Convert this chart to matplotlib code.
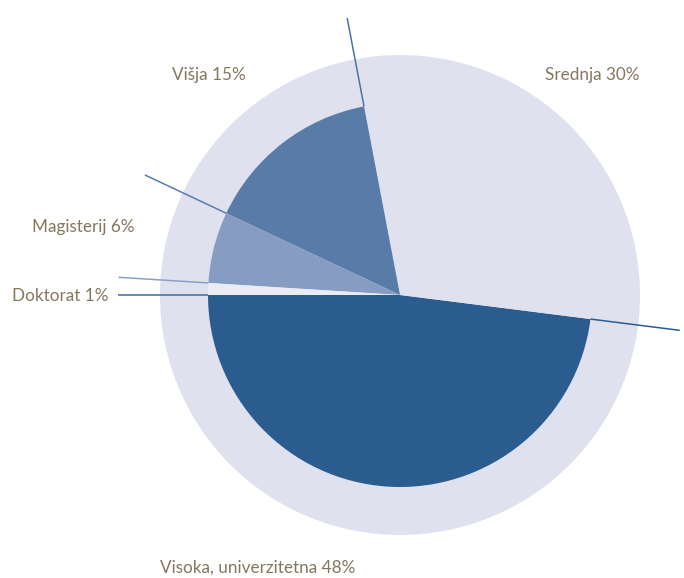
import numpy as np
import matplotlib
matplotlib.use("Agg")
import matplotlib.pyplot as plt
from matplotlib.patches import Circle

categories = ["Visoka, univerzitetna", "Srednja", "Višja", "Magisterij", "Doktorat"]
values = [48, 30, 15, 6, 1]
labels = ["Visoka, univerzitetna 48%", "Srednja 30%", "Višja 15%", "Magisterij 6%", "Doktorat 1%"]

colors = ["#2b5c8f", "#dfe2ee", "#587ba8", "#869cc3", "#e9ecf5"]
line_colors = ["#2b5c8f", "#4a72a8", "#5a7cb0", "#8aa0c8", "#3f6a9e"]
text_color = "#85765f"

W, H = 684, 578
fig = plt.figure(figsize=(W / 100, H / 100), dpi=100)
ax = fig.add_axes([0, 0, 1, 1])
ax.set_xlim(0, W)
ax.set_ylim(0, H)
ax.set_aspect("equal")
ax.axis("off")

cx, cy = 400, H - 295
R_outer, R_inner = 240, 192

ax.add_patch(Circle((cx, cy), R_outer, color="#dfe2ee", zorder=1, lw=0))

wedges, _ = ax.pie(values, colors=colors, startangle=180, counterclock=True,
                   radius=R_inner, center=(cx, cy), frame=True,
                   wedgeprops=dict(linewidth=0))
for w in wedges:
    w.set_zorder(2)
ax.set_xlim(0, W)
ax.set_ylim(0, H)
ax.axis("off")

# boundary leader lines (at the end edge of each wedge)
total = sum(values)
cum = np.cumsum(values)
for v, lc in zip(cum, line_colors):
    ang = np.deg2rad(180 + 360 * v / total)
    r0, r1 = R_inner, 282
    ax.plot([cx + r0 * np.cos(ang), cx + r1 * np.cos(ang)],
            [cy + r0 * np.sin(ang), cy + r1 * np.sin(ang)],
            color=lc, lw=1.1, zorder=3, solid_capstyle="butt")

font = dict(family=["Lato", "DejaVu Sans"], fontsize=12.3, color=text_color, va="center", ha="left")
label_pos = [(160, H - 568), (545, H - 75), (172, H - 75), (32, H - 227), (12, H - 296)]
for lab, (x, y) in zip(labels, label_pos):
    ax.text(x, y, lab, **font)

fig.savefig("out.png", dpi=100)
